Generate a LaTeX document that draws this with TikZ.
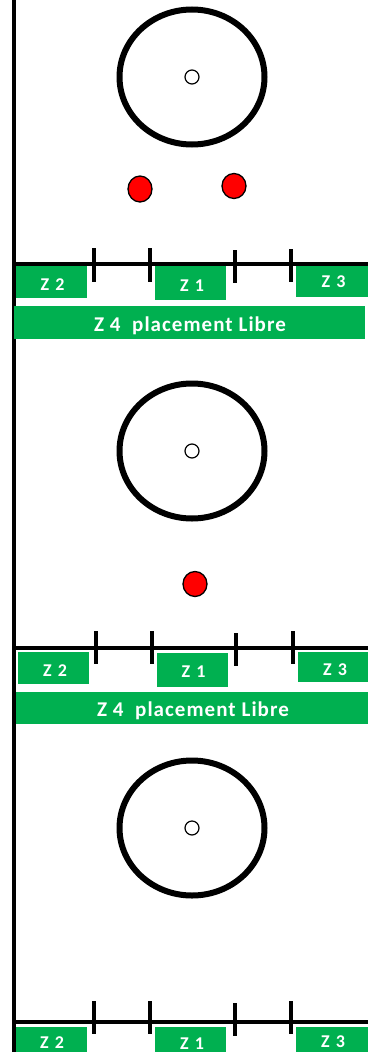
\documentclass[tikz,border=0pt]{standalone}
\usepackage{fontspec}
\usetikzlibrary{shapes.geometric}
\newfontfamily\zfont[LetterSpace=12]{Carlito}
\newfontfamily\zzfont[LetterSpace=5]{Carlito}
\definecolor{zgreen}{HTML}{00B050}
\definecolor{dotred}{HTML}{FF0000}
\begin{document}
\begin{tikzpicture}[x=1pt,y=-1pt,
  wall/.style={line width=4pt,black},
  tick/.style={line width=4pt,black},
  wheel/.style={draw,ellipse,line width=6pt,black,minimum width=145pt,minimum height=135pt,inner sep=0pt},
  hub/.style={line width=1.2pt,black,fill=white},
  reddot/.style={line width=1.3pt,black,fill=dotred},
  zone/.style={fill=zgreen,draw=none},
  ztext/.style={text=white,font=\zfont\bfseries\fontsize{18}{20}\selectfont,inner sep=0pt,anchor=base},
  zztext/.style={text=white,font=\zzfont\bfseries\fontsize{21}{23}\selectfont,inner sep=0pt,anchor=base}]
\useasboundingbox (0,0) rectangle (368,1052);
% vertical wall
\coordinate (wt) at (14,0);
\coordinate (wb) at (14,1052);
\draw[wall] (wt) -- (wb);

% ---------- row 1 ----------
\node[wheel] (w1) at (192,77) {};
\draw[hub] (192,77) circle (7);
\draw[reddot] (140,189) ellipse (12 and 13);
\draw[reddot] (234,186) ellipse (12 and 12.5);
\coordinate (l1a) at (14,264);
\coordinate (l1b) at (368,264);
\draw[wall] (l1a) -- (l1b);
\foreach \x/\t/\b in {94/248/282,150/248/282,235/250/283,291/249/282}
  \draw[tick] (\x,\t) -- (\x,\b);
\fill[zone] (16,266) rectangle (87,298);
\node[ztext] (z21) at (52.5,290) {Z 2};
\fill[zone] (155,266) rectangle (226,300);
\node[ztext] (z11) at (192,291) {Z 1};
\fill[zone] (296,266) rectangle (368,297);
\node[ztext] (z31) at (333.5,287) {Z 3};
\fill[zone] (14,306) rectangle (365,339);
\node[zztext] (z41) at (190,331.5) {Z 4\ \ placement Libre};

% ---------- row 2 ----------
\node[wheel] (w2) at (192,451) {};
\draw[hub] (192,451) circle (7);
\draw[reddot] (195,584) ellipse (12 and 12.5);
\coordinate (l2a) at (14,648);
\coordinate (l2b) at (368,648);
\draw[wall] (l2a) -- (l2b);
\foreach \x/\t/\b in {96/631/664,152/631/664,236/633/666,293/631/664}
  \draw[tick] (\x,\t) -- (\x,\b);
\fill[zone] (18,652) rectangle (89,684);
\node[ztext] (z22) at (55,676) {Z 2};
\fill[zone] (157,653) rectangle (228,687);
\node[ztext] (z12) at (193.5,677.5) {Z 1};
\fill[zone] (298,652) rectangle (368,682);
\node[ztext] (z32) at (335,675) {Z 3};
\fill[zone] (16,692) rectangle (368,724);
\node[zztext] (z42) at (193,716.5) {Z 4\ \ placement Libre};

% ---------- row 3 ----------
\node[wheel] (w3) at (192,828) {};
\draw[hub] (192,828) circle (7);
\coordinate (l3a) at (14,1022);
\coordinate (l3b) at (368,1022);
\draw[wall] (l3a) -- (l3b);
\foreach \x/\t/\b in {94/1001/1034,150/1001/1034,235/1003/1036,291/1001/1034}
  \draw[tick] (\x,\t) -- (\x,\b);
\fill[zone] (16,1027) rectangle (87,1052);
\node[ztext] (z23) at (52,1048) {Z 2};
\fill[zone] (155,1027) rectangle (226,1052);
\node[ztext] (z13) at (192,1049.5) {Z 1};
\fill[zone] (296,1027) rectangle (368,1052);
\node[ztext] (z33) at (333,1047) {Z 3};
\end{tikzpicture}
\end{document}
